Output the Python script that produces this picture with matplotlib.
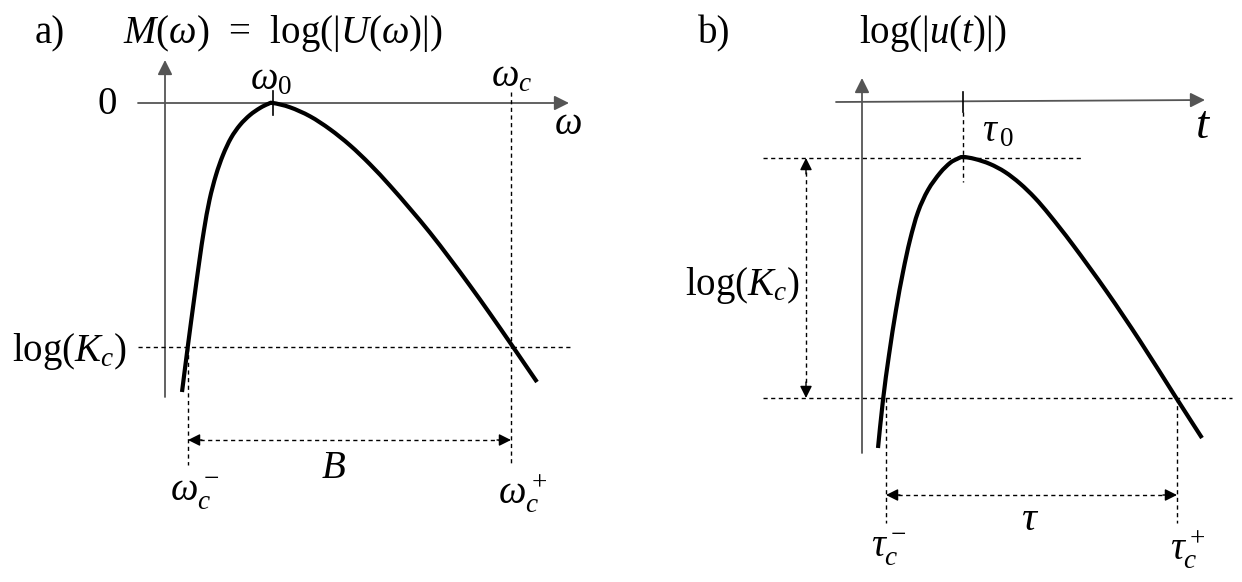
"""
Schematic: a) log spectrum M(w) with bandwidth B, b) log envelope log|u(t)| with duration tau.
Drawn in pixel-like coordinates on one full-figure axes.
"""

import matplotlib
matplotlib.use("Agg")
import matplotlib.pyplot as plt
from matplotlib.patches import FancyArrowPatch, PathPatch
from matplotlib.path import Path

plt.rcParams.update({
    "font.family": "Liberation Serif",
    "mathtext.fontset": "custom",
    "mathtext.rm": "Liberation Serif",
    "mathtext.it": "Liberation Serif:italic",
    "mathtext.bf": "Liberation Serif:bold",
})

W, H = 1242, 582

# ── Curve shapes (x, y in image pixels) ──────────────────────────────────────
curve_a_x = [182, 188, 194, 199.5, 204, 209.5, 216, 223, 231, 240, 250, 260, 268, 273,
             290, 310, 330, 350, 370, 390, 410, 430, 450, 470, 490, 511, 524, 537]
curve_a_y = [392, 345, 300, 260, 230, 200, 175, 155, 138, 125, 115, 108, 104, 103,
             107.3, 116.3, 129.3, 145.3, 164.3, 185.7, 208.7, 232.7, 258.7, 285.7,
             313.7, 344, 363, 382]

curve_b_x = [878, 883, 889, 896, 903, 910, 918, 928, 940, 950, 957, 963, 975, 990,
             1005, 1020, 1035, 1050, 1073, 1107, 1140, 1175, 1202]
curve_b_y = [448, 400, 355, 310, 272, 240, 212, 190, 173, 163, 159, 157, 159, 164,
             172, 183.5, 198, 215.5, 245, 292, 341, 396, 438]

# key positions
a_axis_x, a_axis_y = 165, 103
a_w0, a_wc_minus, a_wc_plus = 273, 188, 511
a_level = 347
b_axis_x, b_axis_y = 862, 102
b_t0, b_tc_minus, b_tc_plus = 963, 886, 1177
b_peak, b_level = 158, 398

AX_COLOR = "#555555"
FS = 28


def arrow(ax, x0, y0, x1, y1, style="-|>", lw=1.3, color=AX_COLOR, ms=22):
    ax.add_patch(FancyArrowPatch((x0, y0), (x1, y1), arrowstyle=style,
                                 mutation_scale=ms, lw=lw, color=color,
                                 shrinkA=0, shrinkB=0))


def dashed(ax, xs, ys):
    ax.plot(xs, ys, color="black", lw=1.0, ls=(0, (3, 2.5)))


def smooth(xs, ys):
    # Catmull-Rom through the read points, drawn as cubic Bezier segments
    pts = list(zip(xs, ys))
    verts, codes = [pts[0]], [Path.MOVETO]
    for i in range(len(pts) - 1):
        p0 = pts[i - 1] if i > 0 else pts[i]
        p1, p2 = pts[i], pts[i + 1]
        p3 = pts[i + 2] if i + 2 < len(pts) else pts[i + 1]
        c1 = (p1[0] + (p2[0] - p0[0]) / 6, p1[1] + (p2[1] - p0[1]) / 6)
        c2 = (p2[0] - (p3[0] - p1[0]) / 6, p2[1] - (p3[1] - p1[1]) / 6)
        verts += [c1, c2, p2]
        codes += [Path.CURVE4] * 3
    return Path(verts, codes)


fig = plt.figure(figsize=(W / 100, H / 100), dpi=100)
ax = fig.add_axes([0, 0, 1, 1])
ax.set_xlim(0, W)
ax.set_ylim(H, 0)
ax.axis("off")

# ── Panel a ──────────────────────────────────────────────────────────────────
ax.text(35, 34, "a)", fontsize=FS, va="center", ha="left")
ax.text(123, 34, r"$M(\omega)$  =  log(|$U(\omega)$|)", fontsize=FS, va="center", ha="left")

arrow(ax, a_axis_x, 397, a_axis_x, 60)
arrow(ax, 138, a_axis_y, 569, a_axis_y)
ax.plot([a_w0, a_w0], [91, 115], color="black", lw=1.2)

dashed(ax, [138, 573], [a_level, a_level])
dashed(ax, [a_wc_plus, a_wc_plus], [92, 465])
dashed(ax, [a_wc_minus, a_wc_minus], [a_level, 465])
dashed(ax, [a_wc_minus + 12, a_wc_plus - 12], [440, 440])
arrow(ax, a_wc_minus + 14, 440, a_wc_minus, 440, color="black", lw=1.0, ms=18)
arrow(ax, a_wc_plus - 14, 440, a_wc_plus, 440, color="black", lw=1.0, ms=18)

ax.add_patch(PathPatch(smooth(curve_a_x, curve_a_y), fill=False, ec="black",
                       lw=3.0, capstyle="butt"))

ax.text(107, 105, "0", fontsize=FS, va="center", ha="center")
ax.text(a_w0 - 2, 80, r"$\omega_0$", fontsize=FS, va="center", ha="center")
ax.text(512, 77, r"$\omega_c$", fontsize=FS, va="center", ha="center")
ax.text(568, 124, r"$\omega$", fontsize=FS, va="center", ha="center")
ax.text(127, 352, r"log($K_c$)", fontsize=FS, va="center", ha="right")
ax.text(333, 468, r"$B$", fontsize=FS, va="center", ha="center")
ax.text(195, 494, r"$\omega_c^-$", fontsize=FS, va="center", ha="center")
ax.text(523, 494, r"$\omega_c^+$", fontsize=FS, va="center", ha="center")

# ── Panel b ──────────────────────────────────────────────────────────────────
ax.text(698, 34, "b)", fontsize=FS, va="center", ha="left")
ax.text(859, 34, r"log(|$u(t)$|)", fontsize=FS, va="center", ha="left")

arrow(ax, b_axis_x, 453, b_axis_x, 78)
arrow(ax, 836, b_axis_y, 1205, b_axis_y - 2)
ax.plot([b_t0, b_t0], [92, 112], color="black", lw=1.2)
dashed(ax, [b_t0, b_t0], [112, 182])

dashed(ax, [763, 1082], [b_peak, b_peak])
dashed(ax, [763, 1232], [b_level, b_level])
dashed(ax, [806, 806], [b_peak + 14, b_level - 14])
arrow(ax, 806, b_peak + 16, 806, b_peak, color="black", lw=1.0, ms=18)
arrow(ax, 806, b_level - 16, 806, b_level, color="black", lw=1.0, ms=18)

dashed(ax, [b_tc_minus, b_tc_minus], [b_level, 523])
dashed(ax, [b_tc_plus, b_tc_plus], [b_level, 523])
dashed(ax, [b_tc_minus + 12, b_tc_plus - 12], [495, 495])
arrow(ax, b_tc_minus + 14, 495, b_tc_minus, 495, color="black", lw=1.0, ms=18)
arrow(ax, b_tc_plus - 14, 495, b_tc_plus, 495, color="black", lw=1.0, ms=18)

ax.add_patch(PathPatch(smooth(curve_b_x, curve_b_y), fill=False, ec="black",
                       lw=3.0, capstyle="butt"))

ax.text(998, 132, r"$\tau_{\,0}$", fontsize=FS, va="center", ha="center")
ax.text(1203, 127, r"$t$", fontsize=FS + 6, va="center", ha="center")
ax.text(800, 285, r"log($K_c$)", fontsize=FS, va="center", ha="right")
ax.text(1030, 520, r"$\tau$", fontsize=FS + 2, va="center", ha="center")
ax.text(889, 550, r"$\tau_c^-$", fontsize=FS, va="center", ha="center")
ax.text(1188, 550, r"$\tau_c^+$", fontsize=FS, va="center", ha="center")

fig.savefig("out.png", dpi=100)
plt.close(fig)
print("[saved] out.png")
